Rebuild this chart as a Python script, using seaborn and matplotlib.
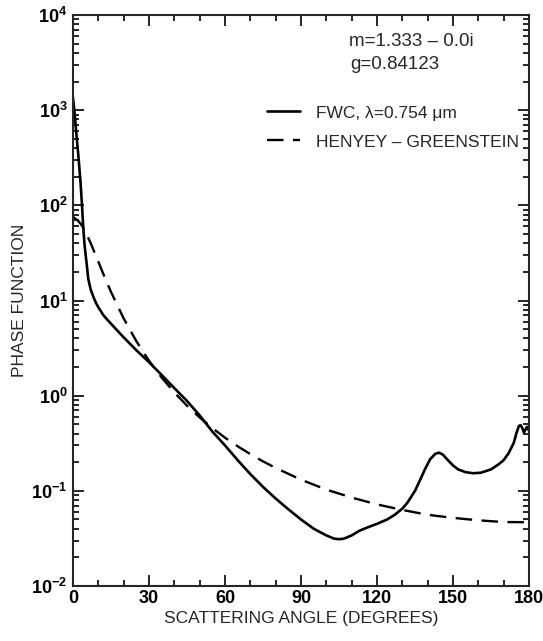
import matplotlib
matplotlib.use("Agg")
import matplotlib.pyplot as plt
from matplotlib.ticker import LogLocator, MultipleLocator, NullFormatter, FixedLocator
import seaborn as sns
import pandas as pd

# ---- data ----
fwc_angle = [0, 0.5, 1, 1.5, 2, 2.5, 3, 3.5, 4, 4.5, 5, 5.5, 6, 7, 8, 9, 10, 12,
             13.5, 15, 20, 25, 30, 35, 40, 45, 50, 55, 60, 65, 70, 75, 80, 85, 90,
             95, 100, 103, 105, 107, 110, 113, 116, 120, 124, 127, 130, 132, 135,
             137, 139, 141, 143, 144.5, 146, 148, 150, 152, 155, 158, 161, 165,
             168, 170, 172, 174, 175, 176, 176.7, 177.3, 178, 178.6, 179.2, 180]
fwc_value = [1350, 1000, 720, 500, 360, 250, 170, 105, 62, 40, 30, 23, 17, 13,
             11, 9.5, 8.5, 7.0, 6.3, 5.7, 4.1, 3.0, 2.25, 1.65, 1.2, 0.88, 0.62,
             0.42, 0.30, 0.21, 0.15, 0.11, 0.083, 0.064, 0.050, 0.040, 0.034,
             0.0315, 0.031, 0.0315, 0.034, 0.038, 0.041, 0.045, 0.050, 0.056,
             0.065, 0.075, 0.10, 0.13, 0.17, 0.215, 0.245, 0.252, 0.24, 0.21,
             0.185, 0.168, 0.157, 0.153, 0.155, 0.168, 0.19, 0.21, 0.25, 0.32,
             0.40, 0.48, 0.49, 0.46, 0.41, 0.44, 0.47, 0.43]

hg_angle = [0, 1, 2, 3, 4, 5, 7, 10, 12, 15, 20, 25, 30, 35, 40, 45, 50, 55, 60,
            65, 70, 75, 80, 90, 100, 110, 120, 130, 140, 150, 160, 170, 180]
hg_value = [76, 72, 68.8, 64.1, 58.3, 52.0, 39.9, 25.6, 18.9, 12.3, 6.48, 3.74,
            2.33, 1.55, 1.08, 0.784, 0.590, 0.457, 0.362, 0.294, 0.243, 0.204,
            0.174, 0.131, 0.103, 0.085, 0.072, 0.063, 0.056, 0.052, 0.049,
            0.047, 0.0468]

x_ticks = [0, 30, 60, 90, 120, 150, 180]
y_ticks = [1e-2, 1e-1, 1e0, 1e1, 1e2, 1e3, 1e4]
legend_labels = ["FWC, λ=0.754 μm", "HENYEY – GREENSTEIN"]
annot_lines = ["m=1.333 – 0.0i", "g=0.84123"]

sns.set_style("ticks")
plt.rcParams['font.family'] = ['Liberation Sans', 'DejaVu Sans']
plt.rcParams['mathtext.fontset'] = 'custom'
plt.rcParams['mathtext.rm'] = 'Liberation Sans'
plt.rcParams['mathtext.default'] = 'regular'

fig = plt.figure(figsize=(5.43, 6.41), dpi=100)
ax = fig.add_axes([73/543, 1-586/641, (529-73)/543, (586-15)/641])

df_fwc = pd.DataFrame({"angle": fwc_angle, "value": fwc_value})
df_hg = pd.DataFrame({"angle": hg_angle, "value": hg_value})

sns.lineplot(data=df_fwc, x="angle", y="value", ax=ax, color="black", lw=1.9,
             label=legend_labels[0])
sns.lineplot(data=df_hg, x="angle", y="value", ax=ax, color="black", lw=1.7,
             linestyle=(0, (7, 4)), label=legend_labels[1])

ax.set_yscale("log")
ax.set_xlim(0, 180)
ax.set_ylim(1e-2, 1e4)
ax.set_xticks(x_ticks)
ax.xaxis.set_minor_locator(MultipleLocator(10))
ax.yaxis.set_major_locator(FixedLocator(y_ticks))
ax.yaxis.set_minor_locator(LogLocator(base=10, subs=range(2, 10), numticks=20))
ax.yaxis.set_minor_formatter(NullFormatter())

ax.tick_params(which="both", direction="in", top=True, right=True, width=1.2,
               labelsize=13, colors="black")
ax.tick_params(which="major", length=8)
ax.tick_params(axis="x", which="major", pad=3)
ax.tick_params(axis="y", which="major", pad=4)
ax.tick_params(which="minor", length=4)
for lab in ax.get_xticklabels() + ax.get_yticklabels():
    lab.set_fontweight("bold")
for sp in ax.spines.values():
    sp.set_linewidth(1.5)
    sp.set_visible(True)

ax.set_xlabel("SCATTERING ANGLE (DEGREES)", fontsize=12.5, labelpad=3)
ax.set_ylabel("PHASE FUNCTION", fontsize=12.5, labelpad=3)

ax.text(411/543, 1-42/641, annot_lines[0], transform=fig.transFigure,
        fontsize=13.5, ha="center", va="center")
ax.text(395/543, 1-64.5/641, annot_lines[1], transform=fig.transFigure,
        fontsize=13.5, ha="center", va="center")

leg = ax.legend(loc="upper right", bbox_to_anchor=(1.0, 0.86), frameon=False,
                fontsize=12.5, handlelength=1.9, handletextpad=0.9,
                labelspacing=0.8, borderaxespad=0.2)

fig.savefig("out.png", dpi=100)
